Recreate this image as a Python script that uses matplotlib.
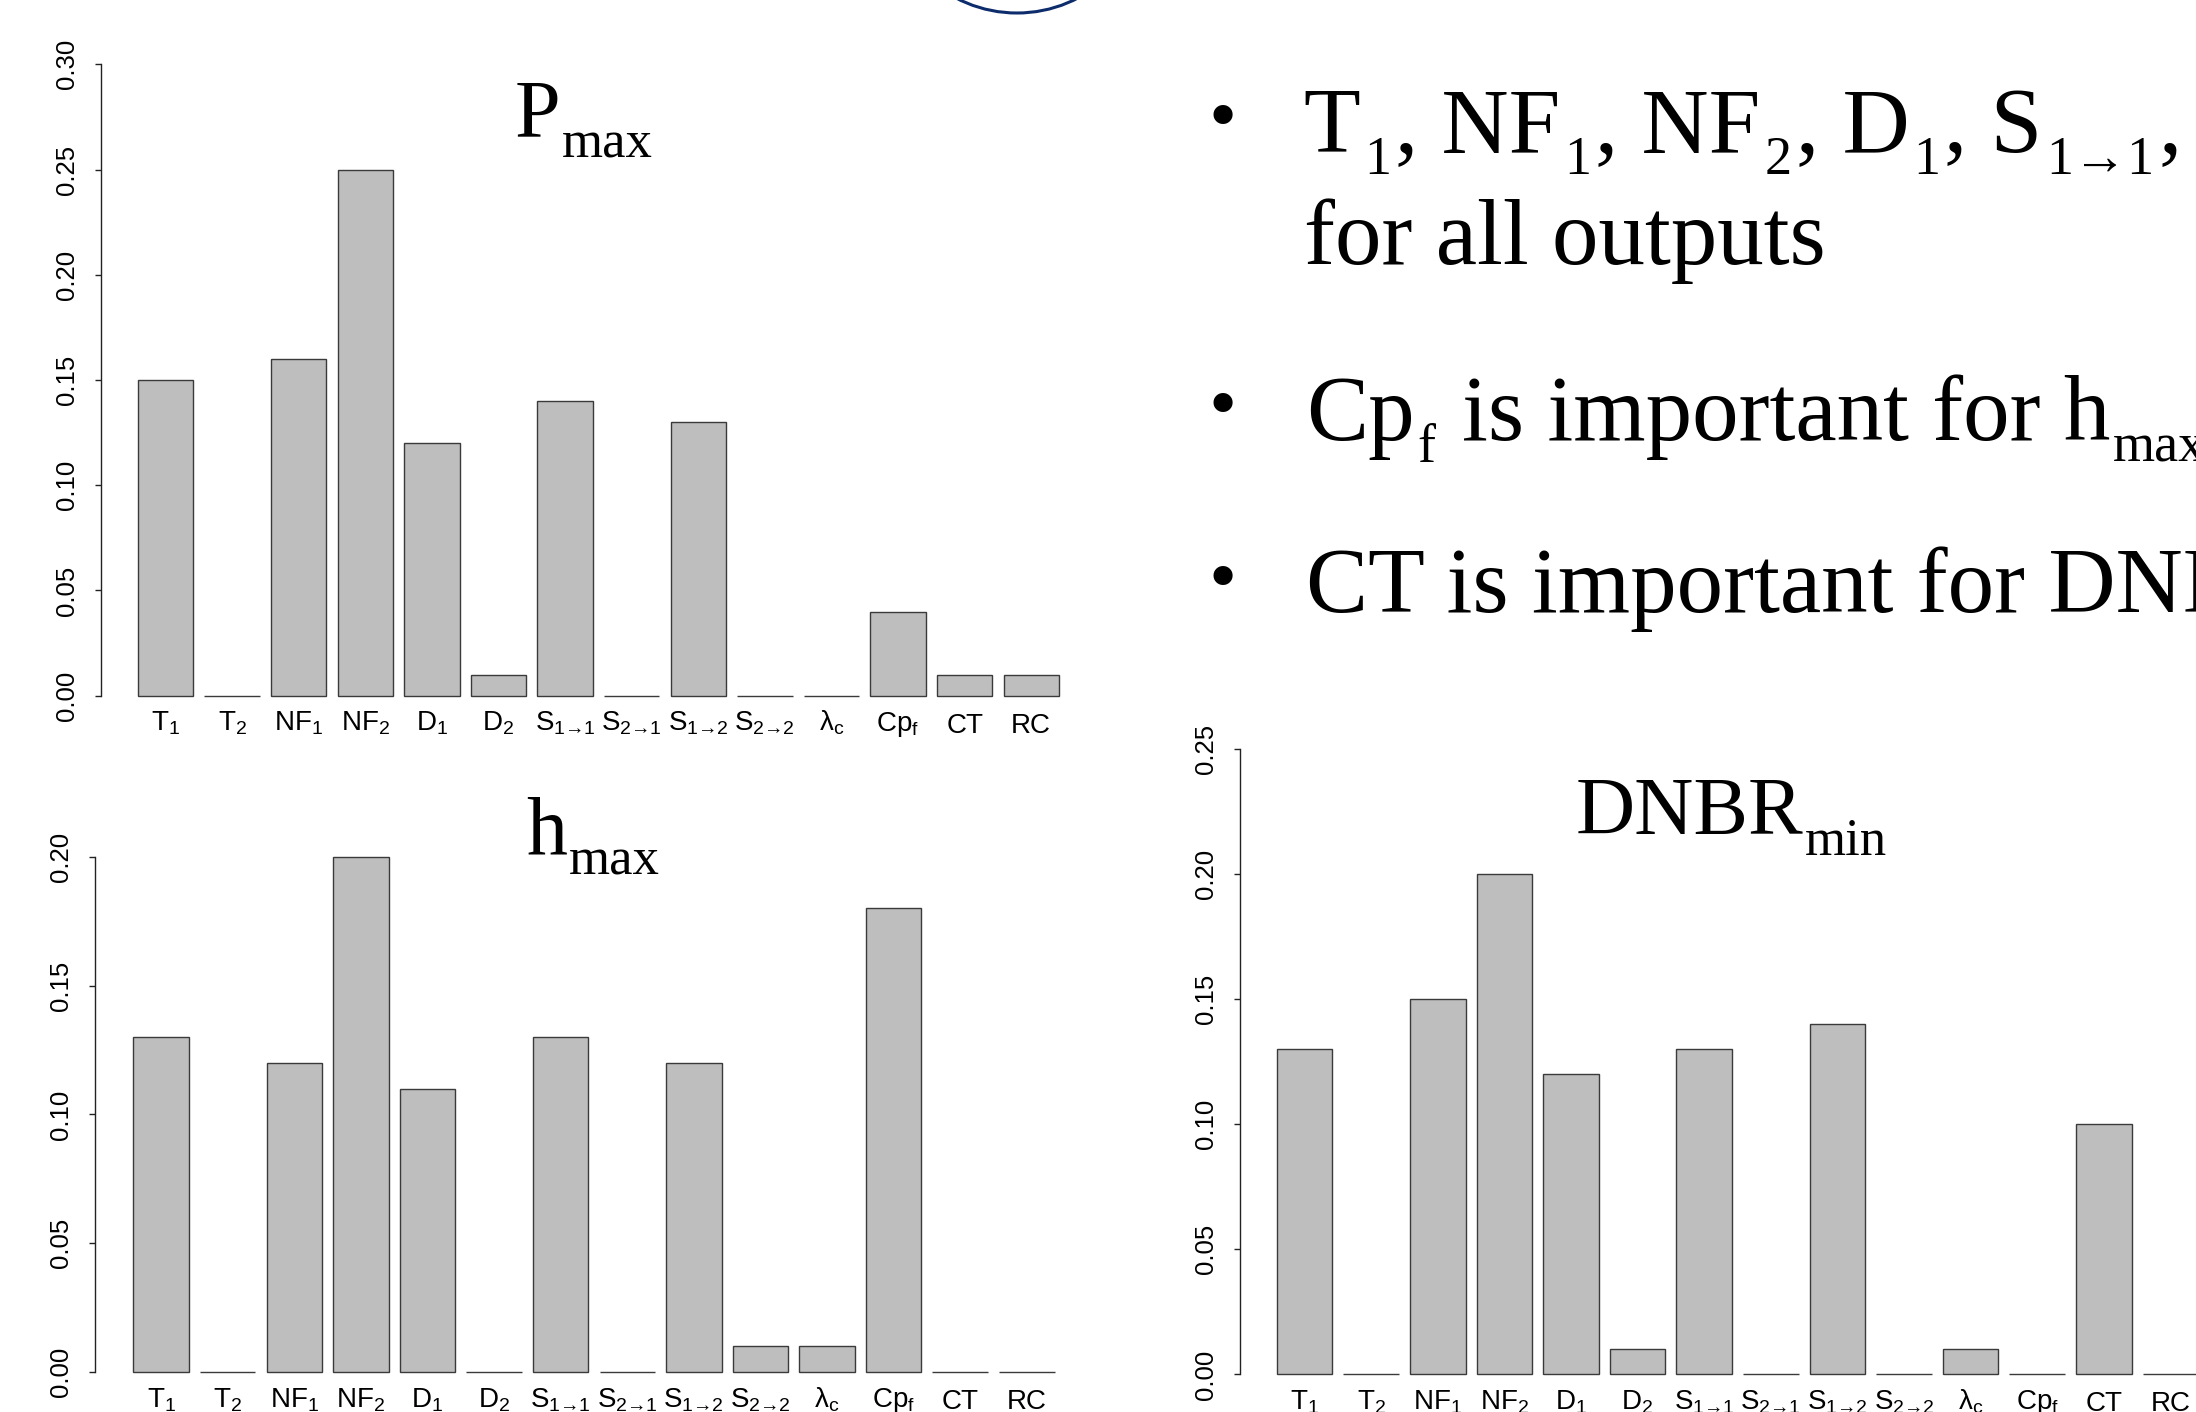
import matplotlib
matplotlib.use('Agg')
import matplotlib.pyplot as plt
from matplotlib.transforms import offset_copy
from matplotlib.patches import Ellipse

# ---------------- data ----------------
categories = [r'$\mathregular{T_1}$', r'$\mathregular{T_2}$', r'$\mathregular{NF_1}$', r'$\mathregular{NF_2}$',
              r'$\mathregular{D_1}$', r'$\mathregular{D_2}$', r'$\mathregular{S_{1→1}}$', r'$\mathregular{S_{2→1}}$',
              r'$\mathregular{S_{1→2}}$', r'$\mathregular{S_{2→2}}$', r'$\mathregular{λ_c}$', r'$\mathregular{Cp_f}$',
              'CT', 'RC']
p_max = [0.15, 0.0, 0.16, 0.25, 0.12, 0.01, 0.14, 0.0, 0.13, 0.0, 0.0, 0.04, 0.01, 0.01]
h_max = [0.13, 0.0, 0.12, 0.20, 0.11, 0.0, 0.13, 0.0, 0.12, 0.01, 0.01, 0.18, 0.0, 0.0]
dnbr_min = [0.13, 0.0, 0.15, 0.20, 0.12, 0.01, 0.13, 0.0, 0.14, 0.0, 0.01, 0.0, 0.10, 0.0]
ticks_p = [0.00, 0.05, 0.10, 0.15, 0.20, 0.25, 0.30]
ticks_h = [0.00, 0.05, 0.10, 0.15, 0.20]
ticks_d = [0.00, 0.05, 0.10, 0.15, 0.20, 0.25]

title_p = [("P", 'n'), ("max", 's')]
title_h = [("h", 'n'), ("max", 's')]
title_d = [("DNBR", 'n'), ("min", 's')]

bullet1a = [("T", 'n'), ("1", 's'), (", NF", 'n'), ("1", 's'), (", NF", 'n'), ("2", 's'), (", D", 'n'), ("1", 's'),
            (", S", 'n'), ("1→1", 's'), (",", 'n')]
bullet1b = [("for all outputs", 'n')]
bullet2 = [("Cp", 'n'), ("f", 's'), (" is important for h", 'n'), ("max", 's')]
bullet3 = [("CT is important for DNBR", 'n'), ("min", 's')]

# ---------------- figure ----------------
W, H = 2196, 1412
DPI = 100
fig = plt.figure(figsize=(W / DPI, H / DPI), dpi=DPI)
fig.patch.set_facecolor('white')
renderer = fig.canvas.get_renderer()

BAR_FACE = '#bebebe'
BAR_EDGE = '#3a3a3a'
SANS = 'Liberation Sans'
SERIF = 'Liberation Serif'
PITCH_PX = 66.6
PPU = PITCH_PX / 1.2


def make_chart(values, ticks, A, P0, Y0, Yt, xr=17.6):
    vtop = ticks[-1]
    xl = 0.2 - (P0 - A) / PPU
    xr_px = P0 + (xr - 0.2) * PPU
    ppv = (Y0 - Yt) / vtop
    ylo, yhi = -0.04 * vtop, 1.04 * vtop
    bottom_px = Y0 + 0.04 * vtop * ppv
    top_px = Yt - 0.04 * vtop * ppv
    ax = fig.add_axes([A / W, 1 - bottom_px / H, (xr_px - A) / W, (bottom_px - top_px) / H])
    ax.set_xlim(xl, xr)
    ax.set_ylim(ylo, yhi)
    ax.patch.set_alpha(0)
    lefts = [0.2 + 1.2 * i for i in range(len(values))]
    ax.bar(lefts, values, width=1.0, align='edge', color=BAR_FACE, edgecolor=BAR_EDGE, linewidth=1.0)
    for s in ['top', 'right', 'bottom']:
        ax.spines[s].set_visible(False)
    ax.spines['left'].set_bounds(0, vtop)
    ax.spines['left'].set_linewidth(1.0)
    ax.spines['left'].set_color('#222222')
    ax.set_xticks([])
    ax.set_yticks(ticks)
    ax.set_yticklabels([f'{t:.2f}' for t in ticks], rotation=90, va='center', fontsize=18.5, family=SANS)
    ax.tick_params(axis='y', length=4.6, width=1.0, pad=10.8, color='#222222')
    trans = offset_copy(ax.transData, fig=fig, x=0, y=-35, units='dots')
    trans_plain = offset_copy(ax.transData, fig=fig, x=0, y=-37, units='dots')
    for i, lab in enumerate(categories):
        ax.text(lefts[i] + 0.5, 0, lab, transform=trans if lab.startswith('$') else trans_plain,
                ha='center', va='baseline', fontsize=20, family=SANS, clip_on=False)
    return ax


def draw_runs(x0, base_y, runs, size, sub_size, drop, family, kern=1.5):
    cx = x0
    texts = []
    for s, kind in runs:
        if s.startswith(' '):
            cx += 0.25 * size * DPI / 72
            s = s.lstrip()
        is_sub = kind == 's'
        fs = sub_size if is_sub else size
        yy = base_y + (drop if is_sub else 0)
        t = fig.text(cx / W, 1 - yy / H, s, fontsize=fs, family=family, ha='left', va='baseline')
        bb = t.get_window_extent(renderer=renderer)
        texts.append(t)
        cx = bb.x1 + kern
    return texts, cx - kern


def centered_title(runs, center_x, base_y):
    texts, end = draw_runs(0, base_y, runs, 59, 38, 21, SERIF)
    first = texts[0].get_window_extent(renderer=renderer).x0
    shift = center_x - (first + end) / 2
    for t in texts:
        x, y = t.get_position()
        t.set_position((x + shift / W, y))


make_chart(p_max, ticks_p, A=100.7, P0=137.7, Y0=695.7, Yt=64.3)
make_chart(h_max, ticks_h, A=94.7, P0=133.3, Y0=1372.2, Yt=856.6)
make_chart(dnbr_min, ticks_d, A=1239.8, P0=1276.8, Y0=1374.4, Yt=748.6)

centered_title(title_p, 584, 136)
centered_title(title_h, 593, 853.6)
centered_title(title_d, 1731, 834)

# slide bullet text
BODY, BODY_SUB, BODY_DROP = 67, 39, 22
draw_runs(1303.3, 151.7, bullet1a, BODY, BODY_SUB, BODY_DROP, SERIF, kern=4)
draw_runs(1304, 264, bullet1b, BODY, BODY_SUB, BODY_DROP, SERIF)
draw_runs(1306, 440, bullet2, BODY, BODY_SUB, BODY_DROP, SERIF, kern=3)
draw_runs(1306, 611.7, bullet3, BODY, BODY_SUB, BODY_DROP, SERIF, kern=3)
for cy in [116.7, 405, 578]:
    fig.text(1222.8 / W, 1 - (cy + 24) / H, '•', fontsize=58, family=SERIF, ha='center', va='baseline')

# decorative logo ring at the top edge of the slide
fig.add_artist(Ellipse((1017 / W, 1 + 118.5 / H), 2 * 131.5 / W, 2 * 131.5 / H,
                       transform=fig.transFigure, fill=False, edgecolor='#0d2c6c', linewidth=2.2))

fig.savefig('out.png', dpi=DPI, facecolor='white')
